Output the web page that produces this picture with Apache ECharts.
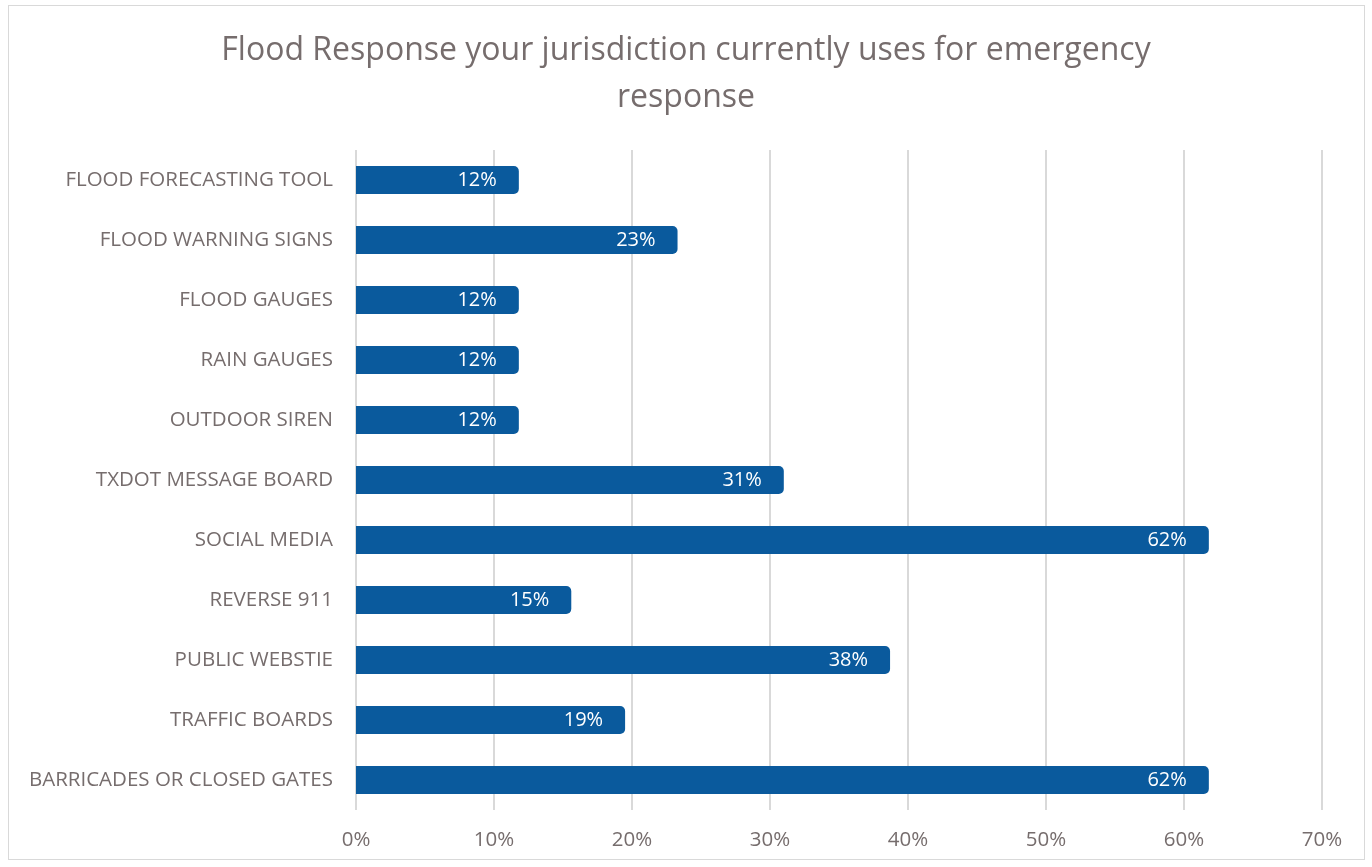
<!DOCTYPE html>
<html>
<head>
<meta charset="utf-8">
<script src="https://cdn.jsdelivr.net/npm/echarts@6/dist/echarts.min.js"></script>
<style>
  html, body { margin: 0; padding: 0; background: #fff; }
  #frame {
    position: absolute; left: 8px; top: 5px; width: 1357px; height: 855px;
    border: 1px solid #d9d9d9; box-sizing: border-box;
  }
  #chart { position: absolute; left: 0; top: 0; width: 1372px; height: 867px; }
</style>
</head>
<body>
<div id="frame"></div>
<div id="chart"></div>
<script>
// categories top to bottom
const categories = [
  "FLOOD FORECASTING TOOL",
  "FLOOD WARNING SIGNS",
  "FLOOD GAUGES",
  "RAIN GAUGES",
  "OUTDOOR SIREN",
  "TXDOT MESSAGE BOARD",
  "SOCIAL MEDIA",
  "REVERSE 911",
  "PUBLIC WEBSTIE",
  "TRAFFIC BOARDS",
  "BARRICADES OR CLOSED GATES"
];
// bar lengths (%)
const values = [11.8, 23.3, 11.8, 11.8, 11.8, 31.0, 61.8, 15.6, 38.7, 19.5, 61.8];
// labels printed on the bars
const barLabels = ["12%", "23%", "12%", "12%", "12%", "31%", "62%", "15%", "38%", "19%", "62%"];
const xTicks = [0, 10, 20, 30, 40, 50, 60, 70];

const textColor = "#766d6d";
const chart = echarts.init(document.getElementById("chart"));
const option = {
  title: {
    text: "Flood Response your jurisdiction currently uses for emergency\nresponse",
    left: "center",
    top: 22,
    textStyle: {
      color: textColor,
      fontFamily: "Open Sans",
      fontSize: 32,
      fontWeight: "normal",
      lineHeight: 47
    }
  },
  grid: {
    left: 356,
    right: 50,
    top: 150,
    bottom: 57
  },
  xAxis: {
    type: "value",
    min: xTicks[0],
    max: xTicks[xTicks.length - 1],
    interval: 10,
    axisLine: { show: false },
    axisTick: { show: false },
    axisLabel: {
      color: textColor,
      fontFamily: "Open Sans",
      fontSize: 20.5,
      margin: 20,
      formatter: v => v + "%"
    },
    splitLine: {
      show: true,
      lineStyle: { color: "#d9d9d9", width: 2 }
    }
  },
  yAxis: {
    type: "category",
    inverse: true,
    data: categories,
    axisLine: { show: false },
    axisTick: { show: false },
    axisLabel: {
      color: textColor,
      fontFamily: "Open Sans",
      fontSize: 20.5,
      margin: 23
    }
  },
  series: [
    {
      type: "bar",
      data: values,
      barWidth: 28,
      itemStyle: {
        color: "#0A5A9D",
        borderRadius: [0, 5, 5, 0]
      },
      label: {
        show: true,
        position: "insideRight",
        distance: 22,
        color: "#fff",
        fontFamily: "Open Sans",
        fontSize: 20,
        formatter: p => barLabels[p.dataIndex]
      }
    }
  ]
};
chart.setOption(option);
</script>
</body>
</html>
